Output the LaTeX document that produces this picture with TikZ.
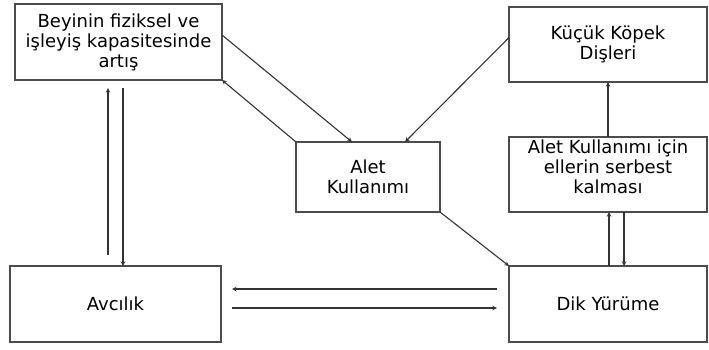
\documentclass[tikz,border=0pt]{standalone}
\usepackage{fontspec}
\setmainfont{DejaVu Sans}
\usetikzlibrary{positioning}

\begin{document}
\begin{tikzpicture}[->, >=stealth, x=1pt, y=-1pt, line width=1.1pt, draw=black!80, node distance = 55pt, box/.style={rectangle, draw=black!70, line width=1.5pt, align=center, inner sep=0pt, outer sep=0pt, font=\fontsize{18}{20}\selectfont}]
            \useasboundingbox (0,0) rectangle (709,349);

            \node[box, minimum width=207pt, minimum height=76pt] (1) at (118.5,42) {Beyinin fiziksel ve\\işleyiş kapasitesinde\\artış};
            \node[box, minimum width=198pt, minimum height=75pt] (2) at (608,44.5) {Küçük Köpek\\Dişleri};
            \node[box, minimum width=198pt, minimum height=75pt] (4) [below=of 2] {Alet Kullanımı için\\ellerin serbest\\kalması\\[-4pt]\mbox{}};
            \node[box, minimum width=198pt, minimum height=76pt] (6) [below=54pt of 4] {Dik Yürüme};
            \node[box, minimum width=144pt, minimum height=70pt] (3) at (368,177) {Alet\\Kullanımı};
            \node[box, minimum width=211pt, minimum height=76pt] (5) at (115.5,304) {Avcılık};

            \path ([yshift=7pt]1.east) edge ([xshift=-16pt]3.north)
                (3.north west) edge (1.south east)
                ([yshift=7pt]2.west) edge ([xshift=37pt]3.north)
                (4.north) edge (2.south)
                ([xshift=-7.5pt, yshift=11pt]5.north) edge ([xshift=-10.5pt, yshift=-8pt]1.south)
                ([xshift=4.5pt, yshift=-8pt]1.south) edge ([xshift=7.5pt]5.north)
                (3.south east) edge (6.north west)
                ([xshift=1pt]6.north) edge ([xshift=1pt]4.south)
                ([xshift=16pt]4.south) edge ([xshift=16pt]6.north)
                ([xshift=-12pt, yshift=15pt]6.west) edge ([xshift=11pt, yshift=15pt]5.east)
                ([xshift=11pt, yshift=-4pt]5.east) edge ([xshift=-12pt, yshift=-4pt]6.west);
        \end{tikzpicture}
\end{document}
